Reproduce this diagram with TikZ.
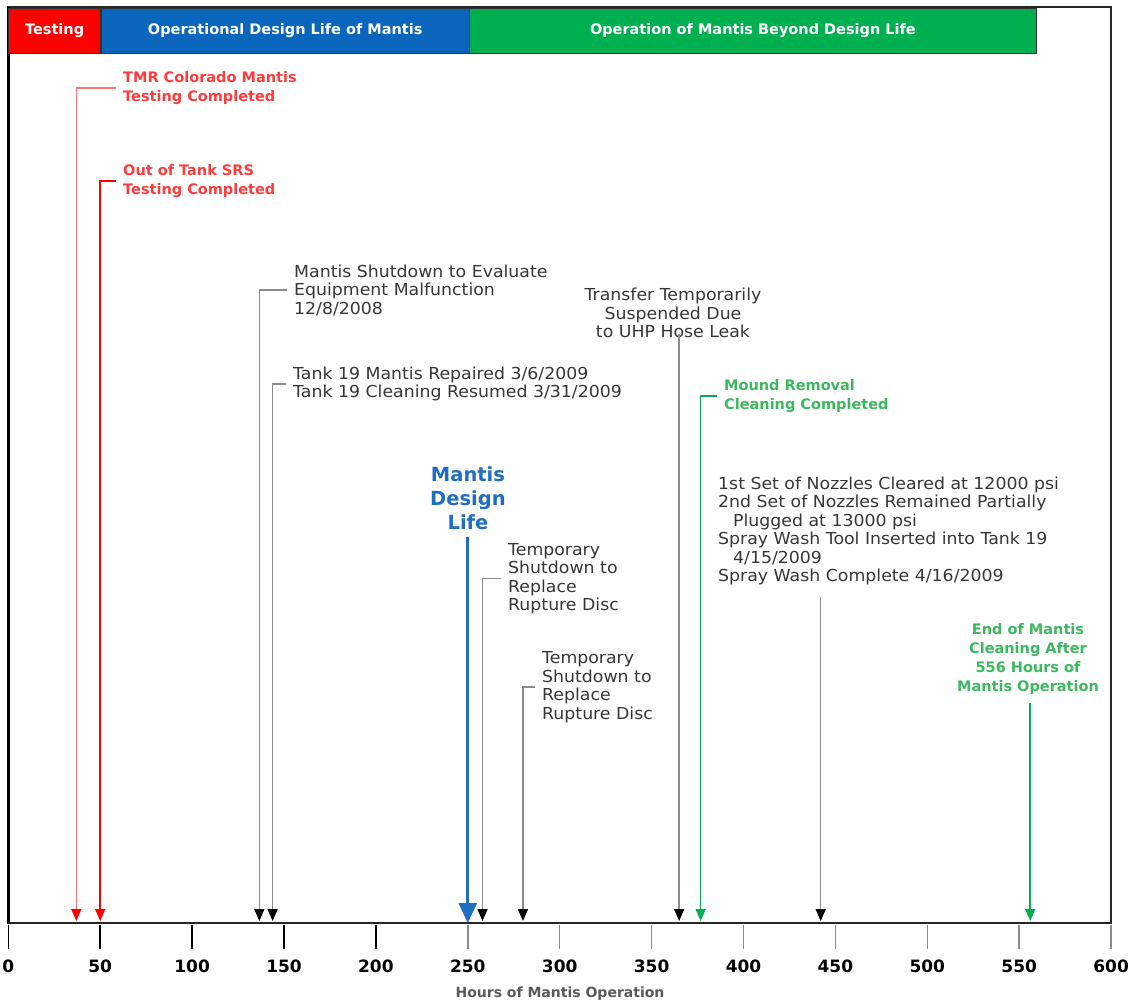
\documentclass[tikz,border=0pt]{standalone}
\usepackage{fontspec}
\setmainfont{DejaVu Sans}
\newfontfamily\notefont[FakeStretch=1.05]{DejaVu Sans}
\usetikzlibrary{arrows.meta,positioning}

\definecolor{barred}{HTML}{FF0000}
\definecolor{barblue}{HTML}{0A66BC}
\definecolor{bargreen}{HTML}{00B050}
\definecolor{labred}{HTML}{FF3B3B}
\definecolor{labgreen}{HTML}{3CB85E}
\definecolor{labblue}{HTML}{1F6EC4}
\definecolor{labgray}{HTML}{363636}
\definecolor{linegray}{HTML}{8C8C8C}

\newcommand{\hr}[1]{8.3+1.838*#1}

\begin{document}
\begin{tikzpicture}[x=1pt,y=-1pt,
	bar/.style={draw=black!80,line width=0.8pt,text=white,minimum height=45pt,anchor=north west,inner sep=0pt,font=\fontsize{14.5}{17}\selectfont\bfseries},
	note/.style={anchor=west,align=left,inner sep=0pt,text=labgray,font=\notefont\fontsize{16.5}{18.5}\selectfont},
	rednote/.style={note,text=labred,font=\fontsize{14.5}{19}\selectfont\bfseries},
	greennote/.style={rednote,text=labgreen},
	ptr/.style={draw=linegray,line width=1.5pt,-{Triangle[length=12pt,width=10pt,color=black]}},
	redptr/.style={ptr,draw=red,-{Triangle[length=12pt,width=10pt,color=red]}},
	greenptr/.style={ptr,draw=bargreen,-{Triangle[length=12pt,width=10pt,color=bargreen]}},
	ticklab/.style={font=\fontsize{17}{17}\selectfont\bfseries}]
\useasboundingbox (0,0) rectangle (1135,1005);

\draw[black!85,line width=2pt] (8.3,7) rectangle (1111,923);
\draw[black,line width=3pt] (8.3,7) -- (8.3,923);

\node[bar,fill=barred,minimum width=91.9pt] (testing) at (8.3,8) {Testing};
\node[bar,fill=barblue,minimum width=367.6pt] (design) at (testing.north east) {Operational Design Life of Mantis};
\node[bar,fill=bargreen,minimum width=566.2pt] (beyond) at (design.north east) {Operation of Mantis Beyond Design Life};

\foreach \t in {0,50,...,200}
	\draw[black,line width=1.5pt] ({\hr{\t}},925) -- ({\hr{\t}},949);
\foreach \t in {250,300,...,600}
	\draw[black!45,line width=1.5pt] ({\hr{\t}},925) -- ({\hr{\t}},949);
\foreach \t in {0,50,...,600}
	\node[ticklab] (tl\t) at ({\hr{\t}},966) {\t};
\node[font=\fontsize{14}{14}\selectfont\bfseries,text=black!65] (xlab) at (560,994) {Hours of Mantis Operation};

\foreach \h/\n in {37/tmr,50/srs,136.6/shut,143.8/tank,258/disc1,280/disc2,365/transfer,376.7/mound,442/nozzles,556/endm}
	\coordinate (\n-tip) at ({\hr{\h}},921);
\coordinate (life-tip) at ({\hr{250}},923);

\node[rednote] (tmr) at (123,88) {TMR Colorado Mantis\\Testing Completed};
\node[rednote] (srs) at (123,181) {Out of Tank SRS\\Testing Completed};
\node[note] (shut) at (294,290) {Mantis Shutdown to Evaluate\\Equipment Malfunction\\12/8/2008};
\node[note] (tank) at (293,384) {Tank 19 Mantis Repaired 3/6/2009\\Tank 19 Cleaning Resumed 3/31/2009};
\node[note,anchor=center,align=center] (transfer) at (673,313) {Transfer Temporarily\\Suspended Due\\to UHP Hose Leak};
\node[greennote] (mound) at (724,396) {Mound Removal\\Cleaning Completed};
\node[note,anchor=center,align=center,text=labblue,font=\fontsize{19.5}{24}\selectfont\bfseries] (life) at (468,498) {Mantis\\Design\\Life};
\node[note] (disc1) at (508,578.5) {Temporary\\Shutdown to\\Replace\\Rupture Disc};
\node[note] (disc2) at (542,687) {Temporary\\Shutdown to\\Replace\\Rupture Disc};
\node[note] (nozzles) at (718,531) {1st Set of Nozzles Cleared at 12000 psi\\2nd Set of Nozzles Remained Partially\\\hspace*{15pt}Plugged at 13000 psi\\Spray Wash Tool Inserted into Tank 19\\\hspace*{15pt}4/15/2009\\Spray Wash Complete 4/16/2009};
\node[greennote,anchor=center,align=center] (endm) at (1028,658.5) {End of Mantis\\Cleaning After\\556 Hours of\\Mantis Operation};

\draw[redptr,draw=red!55,shorten <=7pt] (tmr.west) -| (tmr-tip);
\draw[redptr,shorten <=7pt] (srs.west) -| (srs-tip);
\draw[ptr,shorten <=7pt] (shut.west) -| (shut-tip);
\draw[ptr,shorten <=7pt] (tank.west) -| (tank-tip);
\draw[ptr,shorten <=-4pt] (transfer.south -| transfer-tip) -- (transfer-tip);
\draw[greenptr,shorten <=7pt] (mound.west) -| (mound-tip);
\draw[draw=labblue,line width=3pt,-{Triangle[length=20pt,width=18pt]},shorten <=7pt] (life.south -| life-tip) -- (life-tip);
\draw[ptr,shorten <=7pt] (disc1.west) -| (disc1-tip);
\draw[ptr,shorten <=7pt] (disc2.west) -| (disc2-tip);
\draw[ptr,shorten <=12pt] (nozzles.south -| nozzles-tip) -- (nozzles-tip);
\draw[greenptr,shorten <=9pt] (endm.south -| endm-tip) -- (endm-tip);
\end{tikzpicture}
\end{document}
